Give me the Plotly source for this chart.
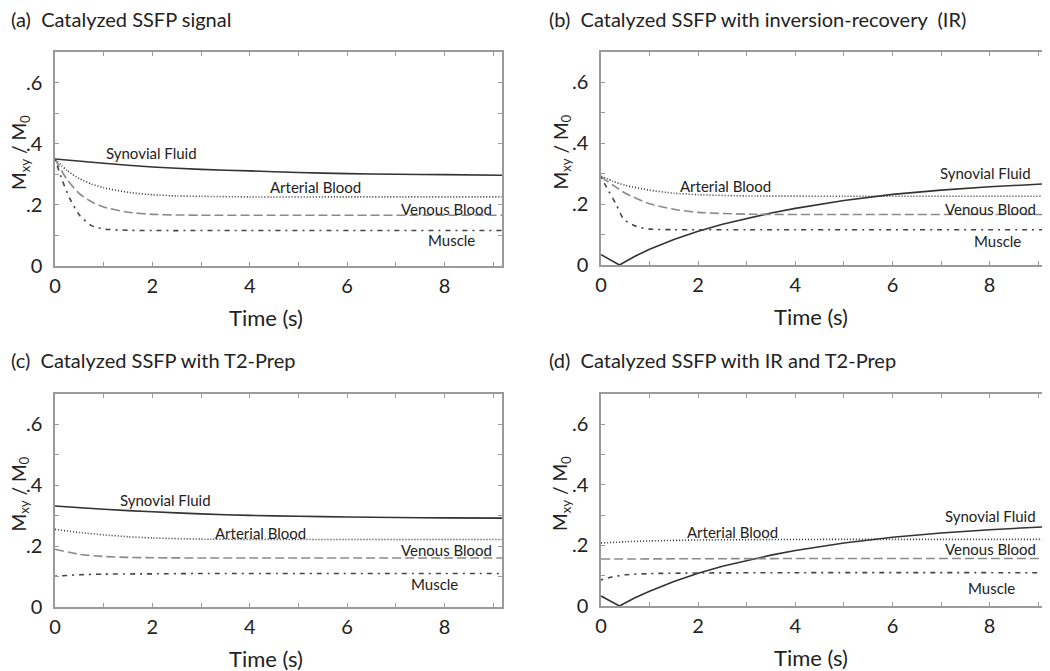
import plotly.graph_objects as go

# ---------------- data ----------------
# (a) Catalyzed SSFP signal
t_a_syn = [0, 1, 2, 3, 4, 5, 6, 7, 8, 9.2]
a_syn = [0.350, 0.336, 0.324, 0.316, 0.311, 0.306, 0.302, 0.300, 0.299, 0.297]
t_a_art = [0, 0.25, 0.5, 0.75, 1, 1.5, 2, 2.5, 3, 4, 6, 9.2]
a_art = [0.350, 0.312, 0.286, 0.268, 0.256, 0.241, 0.233, 0.229, 0.228, 0.226, 0.226, 0.226]
t_a_ven = [0, 0.25, 0.5, 0.75, 1, 1.5, 2, 2.5, 3, 5, 9.2]
a_ven = [0.350, 0.282, 0.237, 0.210, 0.193, 0.176, 0.169, 0.167, 0.166, 0.166, 0.166]
t_a_mus = [0, 0.15, 0.3, 0.5, 0.75, 1, 1.5, 2, 4, 9.2]
a_mus = [0.350, 0.280, 0.222, 0.167, 0.132, 0.121, 0.117, 0.116, 0.116, 0.116]

# (b) Catalyzed SSFP with inversion-recovery (IR)
t_b_syn = [0, 0.38, 0.7, 1, 1.5, 2, 2.5, 3, 3.5, 4, 5, 6, 7, 8, 9.2]
b_syn = [0.034, 0.0, 0.029, 0.052, 0.084, 0.111, 0.134, 0.153, 0.171, 0.186, 0.212, 0.232, 0.246, 0.257, 0.267]
t_b_art = [0, 0.25, 0.5, 1, 1.5, 2, 3, 5, 9.2]
b_art = [0.292, 0.275, 0.262, 0.246, 0.236, 0.231, 0.227, 0.226, 0.226]
t_b_ven = [0, 0.25, 0.5, 1, 1.5, 2, 3, 5, 9.2]
b_ven = [0.290, 0.262, 0.236, 0.201, 0.183, 0.173, 0.167, 0.166, 0.166]
t_b_mus = [0, 0.15, 0.31, 0.47, 0.74, 1.0, 1.5, 3, 9.2]
b_mus = [0.290, 0.245, 0.200, 0.150, 0.126, 0.118, 0.116, 0.116, 0.116]

# (c) Catalyzed SSFP with T2-Prep
t_c_syn = [0, 1, 2, 3, 4, 5, 6, 7, 8, 9.2]
c_syn = [0.332, 0.321, 0.313, 0.306, 0.301, 0.298, 0.296, 0.294, 0.293, 0.292]
t_c_art = [0, 0.5, 1, 1.5, 2, 3, 5, 9.2]
c_art = [0.255, 0.245, 0.237, 0.231, 0.227, 0.223, 0.222, 0.222]
t_c_ven = [0, 0.5, 1, 1.5, 2, 3, 9.2]
c_ven = [0.190, 0.173, 0.166, 0.163, 0.162, 0.161, 0.161]
t_c_mus = [0, 0.5, 1, 2, 3, 9.2]
c_mus = [0.101, 0.106, 0.108, 0.109, 0.110, 0.110]

# (d) Catalyzed SSFP with IR and T2-Prep
t_d_syn = [0, 0.38, 0.7, 1, 1.5, 2, 2.5, 3, 3.5, 4, 5, 6, 7, 8, 9.2]
d_syn = [0.033, 0.0, 0.027, 0.049, 0.081, 0.108, 0.131, 0.150, 0.168, 0.183, 0.208, 0.227, 0.241, 0.252, 0.262]
t_d_art = [0, 0.5, 1, 2, 3, 5, 9.2]
d_art = [0.208, 0.212, 0.215, 0.218, 0.219, 0.220, 0.220]
t_d_ven = [0, 2, 5, 9.2]
d_ven = [0.155, 0.156, 0.157, 0.157]
t_d_mus = [0, 0.2, 0.5, 1, 2, 4, 9.2]
d_mus = [0.086, 0.095, 0.103, 0.107, 0.109, 0.110, 0.110]

panel_titles = ["(a)  Catalyzed SSFP signal",
                "(b)  Catalyzed SSFP with inversion-recovery  (IR)",
                "(c)  Catalyzed SSFP with T2-Prep",
                "(d)  Catalyzed SSFP with IR and T2-Prep"]
tissue_names = ["Synovial Fluid", "Arterial Blood", "Venous Blood", "Muscle"]

# label positions (data coords) per panel: [syn, art, ven, mus]
label_x = [[1.99, 5.34, 8.03, 8.15],
           [7.91, 2.57, 8.02, 8.16],
           [2.27, 4.23, 8.03, 7.79],
           [8.02, 2.71, 8.02, 8.04]]
label_y = [[0.370, 0.258, 0.186, 0.084],
           [0.302, 0.261, 0.185, 0.080],
           [0.353, 0.244, 0.186, 0.077],
           [0.297, 0.244, 0.187, 0.061]]

x_ticks = [0, 1, 2, 3, 4, 5, 6, 7, 8, 9]
x_ticktext = ["0", "", "2", "", "4", "", "6", "", "8", ""]
y_ticks = [0, 0.1, 0.2, 0.3, 0.4, 0.5, 0.6, 0.7]
y_ticktext = ["0", "", ".2", "", ".4", "", ".6", ""]

panels = [
    [(t_a_syn, a_syn), (t_a_art, a_art), (t_a_ven, a_ven), (t_a_mus, a_mus)],
    [(t_b_syn, b_syn), (t_b_art, b_art), (t_b_ven, b_ven), (t_b_mus, b_mus)],
    [(t_c_syn, c_syn), (t_c_art, c_art), (t_c_ven, c_ven), (t_c_mus, c_mus)],
    [(t_d_syn, d_syn), (t_d_art, d_art), (t_d_ven, d_ven), (t_d_mus, d_mus)],
]
# IR panels have a kink in the synovial curve -> draw those straight
kinked = [(1, 0), (3, 0)]

# ---------------- styling / layout ----------------
OFF = 8                      # default body margin of the html page
W, H = 1050 - OFF, 671 - OFF
FONT = "Lato"
styles = [
    dict(color="#333333", width=1.6, dash="solid"),
    dict(color="#333333", width=1.6, dash="1px,2px"),
    dict(color="#8a8a8a", width=1.6, dash="9px,4px"),
    dict(color="#444444", width=1.6, dash="2px,5px,5px,5px"),
]
# plot areas in page pixels: (left, right, top, bottom)
boxes = [(55, 502, 52, 266), (601, 1047, 52, 265),
         (55, 502, 394, 607), (601, 1047, 394, 606)]


def px(x):
    return (x - OFF) / W


def py(y):
    return 1 - (y - OFF) / H


fig = go.Figure()
layout = dict(width=W, height=H, margin=dict(l=0, r=0, t=0, b=0, pad=0, autoexpand=False),
              paper_bgcolor="white", plot_bgcolor="white", showlegend=False,
              font=dict(family=FONT, color="#222222"))
annotations = []

for i, (series, box) in enumerate(zip(panels, boxes)):
    xa = "xaxis" if i == 0 else f"xaxis{i+1}"
    ya = "yaxis" if i == 0 else f"yaxis{i+1}"
    xr = "x" if i == 0 else f"x{i+1}"
    yr = "y" if i == 0 else f"y{i+1}"
    l, r, t, b = box
    for j, ((tx, vy), st) in enumerate(zip(series, styles)):
        shape = "linear" if (i, j) in kinked else "spline"
        fig.add_trace(go.Scatter(x=tx, y=vy, mode="lines",
                                 line=dict(shape=shape, **({"smoothing": 0.6} if shape == "spline" else {}), **st),
                                 xaxis=xr, yaxis=yr, hoverinfo="skip"))
    axcommon = dict(showline=True, linecolor="#9a9a9a", linewidth=1.5, mirror="allticks",
                    ticks="inside", ticklen=4, tickcolor="#9a9a9a", tickwidth=1, automargin=False,
                    showgrid=False, zeroline=False, tickfont=dict(family=FONT, size=20, color="#222222"))
    layout[xa] = dict(domain=[px(l), px(r)], range=[0, 9.18], anchor=yr,
                      tickvals=x_ticks, ticktext=x_ticktext, ticklabelstandoff=1, **axcommon)
    layout[ya] = dict(domain=[py(b), py(t)], range=[0, 0.7], anchor=xr,
                      tickvals=y_ticks, ticktext=y_ticktext, ticklabelstandoff=7, **axcommon)
    # tissue labels
    for name, lx, ly in zip(tissue_names, label_x[i], label_y[i]):
        annotations.append(dict(x=lx, y=ly, xref=xr, yref=yr, text=name, showarrow=False,
                                font=dict(family=FONT, size=15, color="#222222")))
    # panel title
    annotations.append(dict(x=px(9 if i % 2 == 0 else 547), y=py(19 if i < 2 else 360),
                            xref="paper", yref="paper", xanchor="left", yanchor="middle",
                            text=panel_titles[i], showarrow=False,
                            font=dict(family=FONT, size=20, color="#222222")))
    # axis titles
    annotations.append(dict(x=px(l + (r - l) / 2 - 13), y=py(b + 51), xref="paper", yref="paper",
                            text="Time (s)", showarrow=False, xanchor="center", yanchor="middle",
                            font=dict(family=FONT, size=22, color="#222222")))
    annotations.append(dict(x=px(max(l - 40, 20)), y=py((t + b) / 2 - 6), xref="paper", yref="paper",
                            text="M<sub>xy</sub> / M<sub>0</sub>", textangle=-90, showarrow=False,
                            xanchor="center", yanchor="middle",
                            font=dict(family=FONT, size=19, color="#222222")))

layout["annotations"] = annotations
fig.update_layout(**layout)
fig.write_html("out.html")
